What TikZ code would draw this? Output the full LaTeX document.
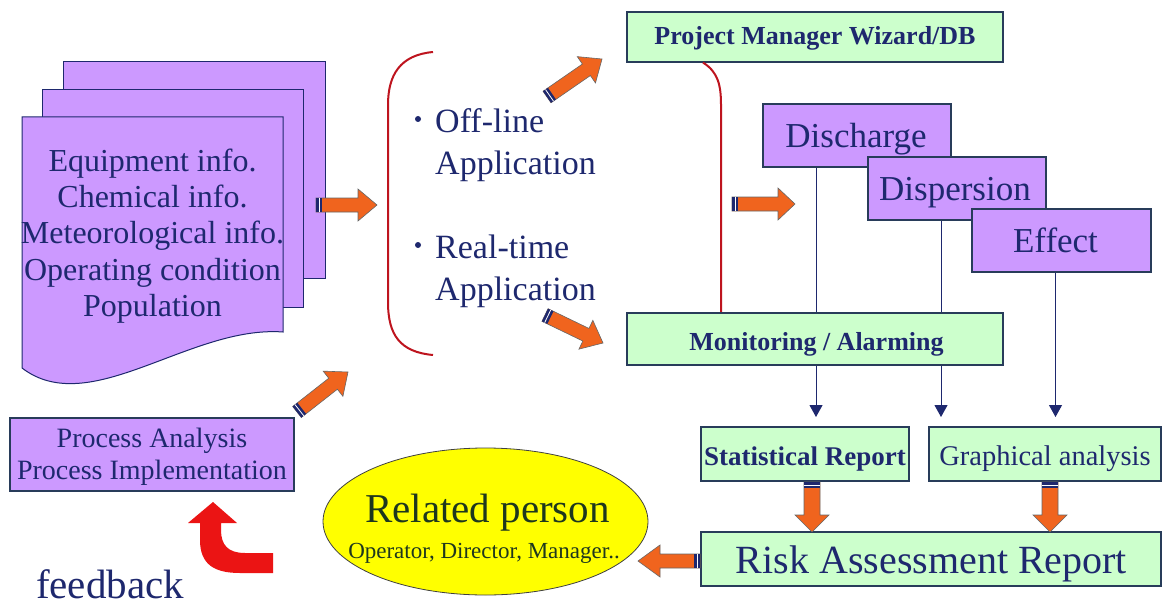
\documentclass[tikz,border=0pt]{standalone}
\usepackage{fontspec}
\setmainfont{Liberation Serif}
\usetikzlibrary{calc,arrows.meta,shapes.geometric,backgrounds}
\definecolor{violetfill}{RGB}{204,153,255}
\definecolor{greenfill}{RGB}{204,255,204}
\definecolor{navy}{RGB}{30,40,110}
\definecolor{edgecol}{RGB}{40,60,90}
\definecolor{orangearr}{RGB}{240,100,30}
\definecolor{redarr}{RGB}{235,20,20}
\definecolor{bracketred}{RGB}{190,20,30}
\definecolor{yellowfill}{RGB}{255,255,0}
\definecolor{darkgreen}{RGB}{30,55,30}
\newcommand\fs[2]{\fontsize{#1}{#2}\selectfont}
\tikzset{
  txt/.style={text=navy, inner sep=0pt, anchor=base},
  vbox/.style={draw=edgecol, fill=violetfill, line width=1.1pt, inner sep=0pt},
  gbox/.style={draw=edgecol, fill=greenfill, line width=1.1pt, inner sep=0pt},
  page/.style={draw=navy, fill=violetfill, line width=1pt},
  vline/.style={draw=navy, line width=1pt},
  varrow/.style={vline, -{Triangle[width=13pt,length=12pt]}},
  bracket/.style={draw=bracketred, line width=2pt},
  oarrow/.style={fill=orangearr, draw=black!60, line width=0.6pt, line join=miter},
  bulletdot/.style={circle, fill=navy, inner sep=0pt, minimum size=6pt},
}
% tail, tip, shaft half width, head half width, head length
\newcommand\BArr[5]{%
  \coordinate (bh) at ($(#2)!#5!(#1)$);
  \coordinate (bs) at ($(#1)!6pt!(#2)$);
  \coordinate (bm) at ($(#1)!3pt!(#2)$);
  \filldraw[oarrow] ($(#1)!#3!90:(#2)$) -- ($(bh)!#3!90:(#2)$) -- ($(bh)!#4!90:(#2)$) -- (#2)
     -- ($(bh)!#4!-90:(#2)$) -- ($(bh)!#3!-90:(#2)$) -- ($(#1)!#3!-90:(#2)$) -- cycle;
  \fill[navy] ($(#1)!#3!90:(#2)$) -- ($(bs)!#3!90:(#2)$) -- ($(bs)!#3!-90:(#2)$) -- ($(#1)!#3!-90:(#2)$) -- cycle;
  \draw[white, line width=0.8pt] ($(bm)!#3!90:(#2)$) -- ($(bm)!#3!-90:(#2)$);
}
\begin{document}
\begin{tikzpicture}[x=1pt,y=-1pt]
\useasboundingbox (0,0) rectangle (1169,607);
\begin{pgfonlayer}{background}
  \fill[white] (0,0) rectangle (1169,607);
\end{pgfonlayer}

% stacked pages
\node[page, minimum width=262pt, minimum height=216pt] (pg3) at (194,170) {};
\node[page, minimum width=261pt, minimum height=217pt] (pg2) at (172.5,198.5) {};
\draw[page] (22,117) -- (283,117) -- (283,332) .. controls (190,325) and (90,420) .. (22,368) -- cycle;
\node[text=navy, inner sep=0pt, align=center, font=\fs{32}{36.25}] (docs) at (152.5,236)
  {Equipment info.\\Chemical info.\\Meteorological info.\\Operating condition\\Population};

% bracket and application types
\draw[bracket] (433,52) .. controls (400,55) and (388,75) .. (388,105) -- (388,302) .. controls (388,335) and (400,352) .. (433,355);
\node[bulletdot] (b1) at (418,119) {};
\node[txt, anchor=base west, font=\fs{34}{34}] (off) at (435,132) {Off-line};
\node[txt, anchor=base west, font=\fs{34}{34}] (app1) at (435,174) {Application};
\node[bulletdot] (b2) at (418,245) {};
\node[txt, anchor=base west, font=\fs{34}{34}] (real) at (435,258) {Real-time};
\node[txt, anchor=base west, font=\fs{34}{34}] (app2) at (435,300) {Application};

% project manager & monitoring
\node[gbox, minimum width=376pt, minimum height=50pt] (pm) at (815,37) {};
\node[txt, font=\bfseries\fs{26}{26}] (pmT) at (815,45) {Project Manager Wizard/DB};
\draw[bracket] ($(pm.south)+(-112,0)$) .. controls (718,72) and (721,85) .. (721,105) -- ($(pm.south)+(-94,276)$) coordinate (rb);

% model boxes
\node[vbox, minimum width=188pt, minimum height=63pt] (dc) at (857,135.5) {};
\node[txt, font=\fs{35}{35}] (dcT) at (856,147) {Discharge};
\node[vbox, minimum width=178pt, minimum height=63pt] (dp) at (957,188.5) {};
\node[txt, font=\fs{35}{35}] (dpT) at (955,200) {Dispersion};
\node[vbox, minimum width=179pt, minimum height=63pt] (ef) at (1061.5,240.5) {};
\node[txt, font=\fs{35}{35}] (efT) at (1055.5,252) {Effect};

\node[gbox, minimum width=376pt, minimum height=52pt] (mon) at (815,339) {};
\node[txt, font=\bfseries\fs{26}{26}] (monT) at (816.5,350) {Monitoring / Alarming};

% report boxes
\node[gbox, minimum width=208pt, minimum height=54pt] (sr) at (805,454) {};
\node[txt, font=\bfseries\fs{27}{27}] (srT) at (805,465) {Statistical Report};
\node[gbox, minimum width=232pt, minimum height=54pt] (ga) at (1045,454) {};
\node[txt, font=\fs{28.5}{28.5}] (gaT) at (1045,465) {Graphical analysis};
\node[gbox, minimum width=460pt, minimum height=54pt] (ra) at (931,559) {};
\node[txt, font=\fs{40}{40}] (raT) at (931.5,573) {Risk Assessment Report};

% vertical connectors (behind the monitoring box)
\coordinate (t1) at (816,417);
\coordinate (t2) at (941,417);
\coordinate (t3) at (1055.5,417);
\begin{pgfonlayer}{background}
  \draw[varrow] ($(dc.south)+(-41,0)$) -- (t1);
  \draw[varrow] ($(dp.south)+(-16,0)$) -- (t2);
  \draw[varrow] ($(ef.south)+(-6,0)$) -- (t3);
\end{pgfonlayer}

% related person
\node[ellipse, draw=black!75, fill=yellowfill, line width=0.8pt, minimum width=325pt, minimum height=147pt, inner sep=0pt] (rp) at (485.5,521.5) {};
\node[txt, text=darkgreen, font=\fs{41}{41}] (rpT) at (487.5,522) {Related person};
\node[txt, text=darkgreen, font=\fs{23}{23}] (rpS) at (484,558) {Operator, Director, Manager..};

% process box and feedback
\node[vbox, minimum width=284pt, minimum height=73pt] (pa) at (152,454.5) {};
\node[text=navy, inner sep=0pt, align=center, font=\fs{28}{32}] (paT) at (152,457) {Process Analysis\\Process Implementation};
\fill[redarr] (200,523) -- (200,540) .. controls (200,565) and (215,573) .. (240,573) -- (273,573) -- (273,553)
  -- (245,553) .. controls (228,553) and (221,545) .. (221,530) -- (221,523) -- (237,523) -- (213,502) -- (188,523) -- cycle;
\node[txt, font=\fs{41}{41}] (fb) at (110,598) {feedback};

% orange block arrows
\coordinate (a1s) at (316,205);  \coordinate (a1e) at (377,205);
\coordinate (a2s) at (547,97);   \coordinate (a2e) at (602,59);
\coordinate (a3s) at (732,204);  \coordinate (a3e) at (795,204);
\coordinate (a4s) at (545,315);  \coordinate (a4e) at (603,343);
\coordinate (a5s) at (297,412);  \coordinate (a5e) at (348,372);
\coordinate (a6s) at (812,482);  \coordinate (a6e) at (812,532);
\coordinate (a7s) at (1050,482); \coordinate (a7e) at (1050,532);
\coordinate (a8s) at (700,561);  \coordinate (a8e) at (638,561);
\BArr{a1s}{a1e}{7pt}{16pt}{19pt}
\BArr{a2s}{a2e}{7pt}{16pt}{19pt}
\BArr{a3s}{a3e}{7pt}{16pt}{17pt}
\BArr{a4s}{a4e}{7pt}{16pt}{19pt}
\BArr{a5s}{a5e}{7pt}{16pt}{19pt}
\BArr{a6s}{a6e}{8pt}{17pt}{17pt}
\BArr{a7s}{a7e}{8pt}{17pt}{17pt}
\BArr{a8s}{a8e}{7pt}{16pt}{22pt}
\end{tikzpicture}
\end{document}
